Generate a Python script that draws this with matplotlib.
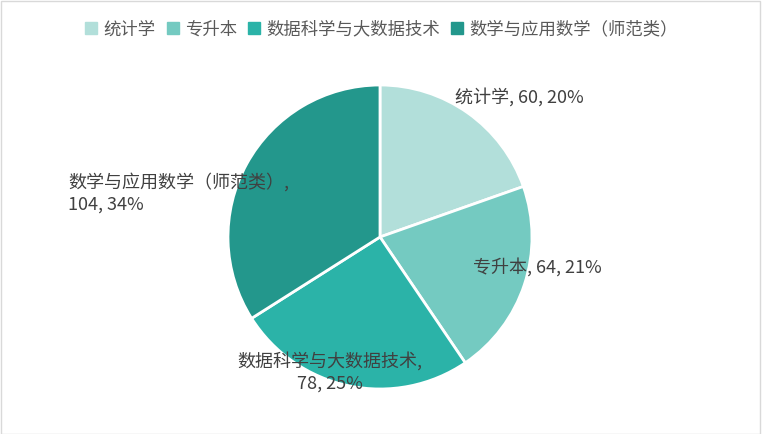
import matplotlib
matplotlib.use("Agg")
import matplotlib.pyplot as plt
from matplotlib.lines import Line2D
from matplotlib.patches import Rectangle

plt.rcParams['font.family'] = ['Noto Sans CJK SC', 'DejaVu Sans']

categories = ['统计学', '专升本', '数据科学与大数据技术', '数学与应用数学（师范类）']
values = [60, 64, 78, 104]
percents = ['20%', '21%', '25%', '34%']
colors = ['#B2DFDA', '#74CAC1', '#2BB3A8', '#23978C']

W, H = 762, 434
cx, cy, R = 380, 237, 152

fig = plt.figure(figsize=(W/100, H/100), dpi=100)
ax = fig.add_axes([0, 0, 1, 1])

wedges, _ = ax.pie(values, colors=colors, startangle=90, counterclock=False,
                   radius=1.0, wedgeprops=dict(edgecolor='white', linewidth=2))
ax.set_xlim(-cx/R, (W-cx)/R)
ax.set_ylim(-(H-cy)/R, cy/R)
ax.set_aspect('equal')
ax.axis('off')

labels = [f'{c}, {v}, {p}' for c, v, p in zip(categories, values, percents)]
labels[2] = f'{categories[2]},\n{values[2]}, {percents[2]}'
labels[3] = f'{categories[3]},\n{values[3]}, {percents[3]}'
pos = [(0.493, 0.921, 'left'), (0.612, -0.197, 'left'),
       (-0.329, -0.888, 'center'), (-2.05, 0.289, 'left')]
for lab, (x, y, ha) in zip(labels, pos):
    ax.text(x, y, lab, ha=ha, va='center', fontsize=13, color='#404040',
            multialignment=ha, linespacing=1.25)

handles = [Line2D([], [], marker='s', linestyle='none', markersize=8,
                  markerfacecolor=c, markeredgecolor=c) for c in colors]
fig.legend(handles, categories, loc='center', bbox_to_anchor=(0.5, 0.932),
           ncol=4, frameon=False, fontsize=12.5, labelcolor='#595959',
           handlelength=0.8, handletextpad=0.3, columnspacing=0.6)

fig.patches.append(Rectangle((0.001, 0.001), 0.997, 0.997, transform=fig.transFigure,
                             fill=False, edgecolor='#D9D9D9', linewidth=1))

fig.savefig('out.png', dpi=100)
